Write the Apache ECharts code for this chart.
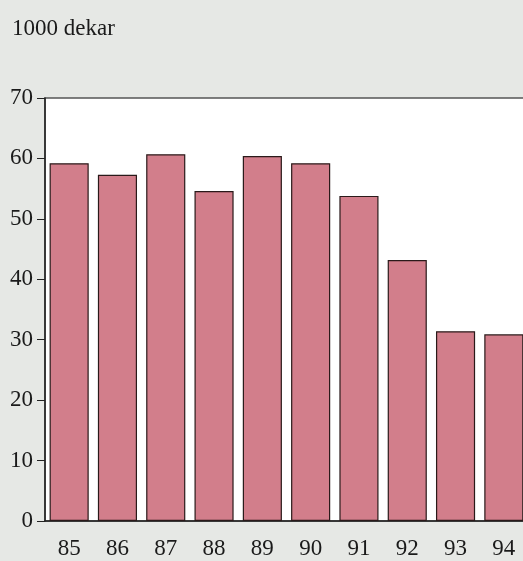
<!DOCTYPE html>
<html><head><meta charset="utf-8">
<script src="https://cdn.jsdelivr.net/npm/echarts@6/dist/echarts.min.js"></script>
<style>html,body{margin:0;padding:0;background:#e6e8e5;overflow:hidden;width:523px;height:561px;}#c{width:528px;height:561px;}</style>
</head><body><div id="c"></div>
<script>
const categories = ['85','86','87','88','89','90','91','92','93','94'];
const values = [59.2, 57.3, 60.7, 54.6, 60.4, 59.2, 53.8, 43.2, 31.4, 30.9];
const unitLabel = '1000 dekar';

const chart = echarts.init(document.getElementById('c'));
chart.setOption({
  backgroundColor: '#e6e8e5',
  animation: false,
  title: { text: unitLabel, left: 7, top: 12, textStyle: { fontFamily: 'Liberation Serif', fontSize: 23, fontWeight: 'normal', color: '#1a1a1a' } },
  grid: { left: 45, top: 98, bottom: 40, right: 0, show: true, backgroundColor: '#ffffff', borderColor: '#555', borderWidth: 1.5 },
  xAxis: {
    type: 'category', data: categories,
    axisLine: { lineStyle: { color: '#222', width: 1.5 } },
    axisTick: { show: false },
    axisLabel: { fontFamily: 'Liberation Serif', fontSize: 23, color: '#1a1a1a', margin: 16 }
  },
  yAxis: {
    type: 'value', min: 0, max: 70, interval: 10,
    axisLine: { show: true, lineStyle: { color: '#222', width: 1.5 } },
    axisTick: { show: true, length: 8, lineStyle: { color: '#222' } },
    splitLine: { show: false },
    axisLabel: { fontFamily: 'Liberation Serif', fontSize: 23, color: '#1a1a1a', margin: 12 }
  },
  series: [{
    type: 'bar', data: values, barCategoryGap: '19%',
    itemStyle: { color: '#d27e8b', borderColor: '#2a1a1a', borderWidth: 1.2 }
  }]
});
</script></body></html>
